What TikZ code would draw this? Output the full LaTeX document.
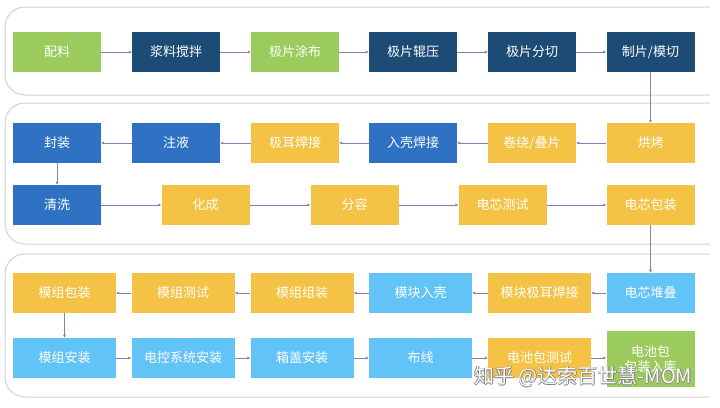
\documentclass[tikz,border=0pt]{standalone}
\usepackage{fontspec}
\setmainfont{Noto Sans CJK SC}
\usetikzlibrary{arrows.meta}

\definecolor{cgreen}{HTML}{9BCB5C}
\definecolor{cnavy}{HTML}{1C4B75}
\definecolor{cblue}{HTML}{2F72C4}
\definecolor{cyellow}{HTML}{F4C245}
\definecolor{clight}{HTML}{62C3F6}
\definecolor{cline}{HTML}{9077B8}
\definecolor{cpanel}{HTML}{D3D3D3}

\begin{document}
\begin{tikzpicture}[x=1pt, y=-1pt,
    stage/.style={minimum width=88pt, minimum height=40pt, inner sep=0pt,
        text=white, font=\fontsize{13}{15}\selectfont, align=center},
    wide/.style={stage, minimum width=103pt},
    flow/.style={draw=cline, line width=0.8pt, -{Latex[length=3pt,width=3pt]}},
    panel/.style={draw=cpanel, line width=1pt, rounded corners=20pt}]
    \useasboundingbox (0,0) rectangle (720,407);
    \fill[white] (0,0) rectangle (720,407);

    % panels
    \draw[panel] (710,7) -- (5,7) -- (5,95) -- (710,95);
    \draw[panel] (710,103) -- (5,103) -- (5,244) -- (710,244);
    \draw[panel] (710,254) -- (5,254) -- (5,397) -- (710,397);

    % row 1
    \node[stage, fill=cgreen] (peiliao) at (57,52) {配料};
    \node[stage, fill=cnavy] (jiaoban) at (176,52) {浆料搅拌};
    \node[stage, fill=cgreen] (tubu) at (295,52) {极片涂布};
    \node[stage, fill=cnavy] (gunya) at (413,52) {极片辊压};
    \node[stage, fill=cnavy] (fenqie) at (532,52) {极片分切};
    \node[stage, fill=cnavy] (moqie) at (650.5,52) {制片/模切};

    % row 2
    \node[stage, fill=cblue] (fengzhuang) at (57,143) {封装};
    \node[stage, fill=cblue] (zhuye) at (176,143) {注液};
    \node[stage, fill=cyellow] (jierhj) at (295,143) {极耳焊接};
    \node[stage, fill=cblue] (ruke) at (413,143) {入壳焊接};
    \node[stage, fill=cyellow] (juanrao) at (532,143) {卷绕/叠片};
    \node[stage, fill=cyellow] (hongkao) at (650.5,143) {烘烤};

    % row 3
    \node[stage, fill=cblue] (qingxi) at (57,205) {清洗};
    \node[stage, fill=cyellow] (huacheng) at (205.5,205) {化成};
    \node[stage, fill=cyellow] (fenrong) at (354.5,205) {分容};
    \node[stage, fill=cyellow] (dxceshi) at (502.5,205) {电芯测试};
    \node[stage, fill=cyellow] (dxbaozhuang) at (650.5,205) {电芯包装};

    % row 4
    \node[wide, fill=cyellow] (mzbaozhuang) at (64.5,293) {模组包装};
    \node[wide, fill=cyellow] (mzceshi) at (183,293) {模组测试};
    \node[wide, fill=cyellow] (mzzuzhuang) at (302,293) {模组组装};
    \node[wide, fill=clight] (mkruke) at (420.5,293) {模块入壳};
    \node[wide, fill=cyellow] (mkjierhj) at (539.5,293) {模块极耳焊接};
    \node[stage, fill=clight] (duidie) at (650.5,293) {电芯堆叠};

    % row 5
    \node[wide, fill=clight] (mzanzhuang) at (64.5,358) {模组安装};
    \node[wide, fill=clight] (dianko) at (183,358) {电控系统安装};
    \node[wide, fill=clight] (xianggai) at (302,358) {箱盖安装};
    \node[wide, fill=clight] (buxian) at (420.5,358) {布线};
    \node[wide, fill=cyellow] (dcbceshi) at (539.5,358) {电池包测试};
    \node[stage, fill=cgreen, minimum height=56pt] (ruku) at (650.5,359) {电池包\\包装入库};

    \draw[flow] (peiliao) -- (jiaoban);
    \draw[flow] (jiaoban) -- (tubu);
    \draw[flow] (tubu) -- (gunya);
    \draw[flow] (gunya) -- (fenqie);
    \draw[flow] (fenqie) -- (moqie);
    \draw[flow] (moqie) -- (hongkao);

    \draw[flow] (hongkao) -- (juanrao);
    \draw[flow] (juanrao) -- (ruke);
    \draw[flow] (ruke) -- (jierhj);
    \draw[flow] (jierhj) -- (zhuye);
    \draw[flow] (zhuye) -- (fengzhuang);
    \draw[flow] (fengzhuang) -- (qingxi);

    \draw[flow] (qingxi) -- (huacheng);
    \draw[flow] (huacheng) -- (fenrong);
    \draw[flow] (fenrong) -- (dxceshi);
    \draw[flow] (dxceshi) -- (dxbaozhuang);
    \draw[flow] (dxbaozhuang) -- (duidie);

    \draw[flow] (duidie) -- (mkjierhj);
    \draw[flow] (mkjierhj) -- (mkruke);
    \draw[flow] (mkruke) -- (mzzuzhuang);
    \draw[flow] (mzzuzhuang) -- (mzceshi);
    \draw[flow] (mzceshi) -- (mzbaozhuang);
    \draw[flow] (mzbaozhuang) -- (mzanzhuang);

    \draw[flow] (mzanzhuang) -- (dianko);
    \draw[flow] (dianko) -- (xianggai);
    \draw[flow] (xianggai) -- (buxian);
    \draw[flow] (buxian) -- (dcbceshi);
    \draw[flow] (dcbceshi.east) -- (dcbceshi.east -| ruku.west);

    % watermark
    \foreach \dx/\dy in {-0.6/0, 0.6/0, 0/-0.6, 0/0.6}
        \node[text=gray, font=\fontsize{20}{22}\selectfont, anchor=west]
            at (471+\dx,377+\dy) {知乎 @达索百世慧-MOM};
    \node[text=white, font=\fontsize{20}{22}\selectfont, anchor=west]
        (mark) at (471,377) {知乎 @达索百世慧-MOM};
\end{tikzpicture}
\end{document}
